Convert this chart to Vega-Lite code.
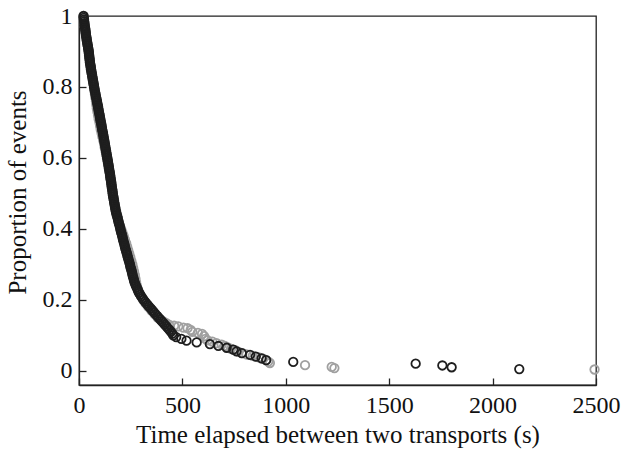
{
  "$schema": "https://vega.github.io/schema/vega-lite/v6.json",
  "autosize": {"type": "none"},
  "width": 517,
  "height": 369,
  "padding": {"left": 79, "top": 16, "right": 28, "bottom": 64},
  "background": "white",
  "config": {
    "view": {"stroke": "#222", "strokeWidth": 1.3},
    "font": "Liberation Serif"
  },
  "data": {"values": [
    {"s":"g","t":22,"p":1},{"s":"g","t":24,"p":0.99},{"s":"g","t":26,"p":0.98},{"s":"g","t":28,"p":0.97},{"s":"g","t":30,"p":0.96},{"s":"g","t":33,"p":0.95},{"s":"g","t":35,"p":0.94},{"s":"g","t":38,"p":0.93},{"s":"g","t":41,"p":0.92},{"s":"g","t":44,"p":0.91},{"s":"g","t":46,"p":0.9},{"s":"g","t":48,"p":0.89},{"s":"g","t":50,"p":0.88},{"s":"g","t":52,"p":0.87},{"s":"g","t":55,"p":0.86},{"s":"g","t":57,"p":0.85},{"s":"g","t":60,"p":0.84},{"s":"g","t":63,"p":0.83},{"s":"g","t":66,"p":0.82},{"s":"g","t":69,"p":0.81},{"s":"g","t":72,"p":0.8},{"s":"g","t":74,"p":0.79},{"s":"g","t":77,"p":0.78},{"s":"g","t":79,"p":0.77},{"s":"g","t":82,"p":0.76},{"s":"g","t":84,"p":0.75},{"s":"g","t":86,"p":0.74},{"s":"g","t":89,"p":0.73},{"s":"g","t":92,"p":0.72},{"s":"g","t":95,"p":0.71},{"s":"g","t":99,"p":0.7},{"s":"g","t":102,"p":0.69},{"s":"g","t":105,"p":0.68},{"s":"g","t":109,"p":0.67},{"s":"g","t":113,"p":0.66},{"s":"g","t":117,"p":0.65},{"s":"g","t":121,"p":0.64},{"s":"g","t":124,"p":0.63},{"s":"g","t":128,"p":0.62},{"s":"g","t":131,"p":0.61},{"s":"g","t":135,"p":0.6},{"s":"g","t":138,"p":0.59},{"s":"g","t":141,"p":0.58},{"s":"g","t":144,"p":0.57},{"s":"g","t":147,"p":0.56},{"s":"g","t":150,"p":0.55},{"s":"g","t":153,"p":0.54},{"s":"g","t":156,"p":0.53},{"s":"g","t":159,"p":0.52},{"s":"g","t":161,"p":0.51},{"s":"g","t":164,"p":0.5},{"s":"g","t":167,"p":0.49},{"s":"g","t":170,"p":0.48},{"s":"g","t":173,"p":0.47},{"s":"g","t":176,"p":0.46},{"s":"g","t":180,"p":0.45},{"s":"g","t":184,"p":0.44},{"s":"g","t":188,"p":0.43},{"s":"g","t":193,"p":0.42},{"s":"g","t":198,"p":0.41},{"s":"g","t":204,"p":0.4},{"s":"g","t":210,"p":0.39},{"s":"g","t":216,"p":0.38},{"s":"g","t":222,"p":0.37},{"s":"g","t":228,"p":0.36},{"s":"g","t":233,"p":0.35},{"s":"g","t":238,"p":0.34},{"s":"g","t":243,"p":0.33},{"s":"g","t":248,"p":0.32},{"s":"g","t":253,"p":0.31},{"s":"g","t":258,"p":0.3},{"s":"g","t":262,"p":0.29},{"s":"g","t":266,"p":0.28},{"s":"g","t":270,"p":0.27},{"s":"g","t":273,"p":0.26},{"s":"g","t":276,"p":0.25},{"s":"g","t":280,"p":0.24},{"s":"g","t":285,"p":0.23},{"s":"g","t":292,"p":0.22},{"s":"g","t":300,"p":0.21},{"s":"g","t":310,"p":0.2},{"s":"g","t":322,"p":0.19},{"s":"g","t":335,"p":0.18},{"s":"g","t":350,"p":0.17},{"s":"g","t":365,"p":0.16},{"s":"g","t":380,"p":0.15},{"s":"g","t":392,"p":0.145},{"s":"g","t":405,"p":0.14},{"s":"g","t":420,"p":0.135},{"s":"g","t":435,"p":0.13},{"s":"g","t":460,"p":0.127},{"s":"g","t":480,"p":0.125},{"s":"g","t":505,"p":0.122},{"s":"g","t":525,"p":0.12},{"s":"g","t":540,"p":0.115},{"s":"g","t":548,"p":0.11},{"s":"g","t":575,"p":0.107},{"s":"g","t":595,"p":0.104},{"s":"g","t":605,"p":0.098},{"s":"g","t":612,"p":0.09},{"s":"g","t":622,"p":0.086},{"s":"g","t":645,"p":0.082},{"s":"g","t":665,"p":0.078},{"s":"g","t":690,"p":0.074},{"s":"g","t":705,"p":0.07},{"s":"g","t":720,"p":0.066},{"s":"g","t":735,"p":0.062},{"s":"g","t":755,"p":0.058},{"s":"g","t":770,"p":0.054},{"s":"g","t":790,"p":0.05},{"s":"g","t":810,"p":0.046},{"s":"g","t":840,"p":0.042},{"s":"g","t":870,"p":0.038},{"s":"g","t":890,"p":0.034},{"s":"g","t":905,"p":0.03},{"s":"g","t":915,"p":0.026},{"s":"g","t":923,"p":0.022},{"s":"g","t":1093,"p":0.016},{"s":"g","t":1222,"p":0.011},{"s":"g","t":1235,"p":0.0076},{"s":"g","t":2493,"p":0.0037},
    {"s":"b","t":22,"p":1},{"s":"b","t":23,"p":0.995},{"s":"b","t":24,"p":0.99},{"s":"b","t":25,"p":0.985},{"s":"b","t":26,"p":0.98},{"s":"b","t":27,"p":0.975},{"s":"b","t":28,"p":0.97},{"s":"b","t":30,"p":0.965},{"s":"b","t":31,"p":0.96},{"s":"b","t":32,"p":0.955},{"s":"b","t":33,"p":0.95},{"s":"b","t":34,"p":0.945},{"s":"b","t":36,"p":0.94},{"s":"b","t":37,"p":0.935},{"s":"b","t":38,"p":0.93},{"s":"b","t":40,"p":0.925},{"s":"b","t":41,"p":0.92},{"s":"b","t":43,"p":0.915},{"s":"b","t":44,"p":0.91},{"s":"b","t":46,"p":0.905},{"s":"b","t":47,"p":0.9},{"s":"b","t":48,"p":0.895},{"s":"b","t":49,"p":0.89},{"s":"b","t":50,"p":0.885},{"s":"b","t":51,"p":0.88},{"s":"b","t":52,"p":0.875},{"s":"b","t":53,"p":0.87},{"s":"b","t":54,"p":0.865},{"s":"b","t":56,"p":0.86},{"s":"b","t":57,"p":0.855},{"s":"b","t":58,"p":0.85},{"s":"b","t":60,"p":0.845},{"s":"b","t":61,"p":0.84},{"s":"b","t":63,"p":0.835},{"s":"b","t":64,"p":0.83},{"s":"b","t":66,"p":0.825},{"s":"b","t":67,"p":0.82},{"s":"b","t":69,"p":0.815},{"s":"b","t":70,"p":0.81},{"s":"b","t":72,"p":0.805},{"s":"b","t":73,"p":0.8},{"s":"b","t":75,"p":0.795},{"s":"b","t":76,"p":0.79},{"s":"b","t":78,"p":0.785},{"s":"b","t":80,"p":0.78},{"s":"b","t":81,"p":0.775},{"s":"b","t":83,"p":0.77},{"s":"b","t":85,"p":0.765},{"s":"b","t":87,"p":0.76},{"s":"b","t":88,"p":0.755},{"s":"b","t":90,"p":0.75},{"s":"b","t":92,"p":0.745},{"s":"b","t":93,"p":0.74},{"s":"b","t":95,"p":0.735},{"s":"b","t":96,"p":0.73},{"s":"b","t":98,"p":0.725},{"s":"b","t":100,"p":0.72},{"s":"b","t":101,"p":0.715},{"s":"b","t":103,"p":0.71},{"s":"b","t":104,"p":0.705},{"s":"b","t":106,"p":0.7},{"s":"b","t":108,"p":0.695},{"s":"b","t":109,"p":0.69},{"s":"b","t":111,"p":0.685},{"s":"b","t":112,"p":0.68},{"s":"b","t":114,"p":0.675},{"s":"b","t":116,"p":0.67},{"s":"b","t":117,"p":0.665},{"s":"b","t":119,"p":0.66},{"s":"b","t":120,"p":0.655},{"s":"b","t":122,"p":0.65},{"s":"b","t":123,"p":0.645},{"s":"b","t":125,"p":0.64},{"s":"b","t":126,"p":0.635},{"s":"b","t":128,"p":0.63},{"s":"b","t":129,"p":0.625},{"s":"b","t":131,"p":0.62},{"s":"b","t":132,"p":0.615},{"s":"b","t":134,"p":0.61},{"s":"b","t":135,"p":0.605},{"s":"b","t":137,"p":0.6},{"s":"b","t":138,"p":0.595},{"s":"b","t":140,"p":0.59},{"s":"b","t":141,"p":0.585},{"s":"b","t":143,"p":0.58},{"s":"b","t":144,"p":0.575},{"s":"b","t":145,"p":0.57},{"s":"b","t":147,"p":0.565},{"s":"b","t":148,"p":0.56},{"s":"b","t":150,"p":0.555},{"s":"b","t":151,"p":0.55},{"s":"b","t":152,"p":0.545},{"s":"b","t":153,"p":0.54},{"s":"b","t":155,"p":0.535},{"s":"b","t":156,"p":0.53},{"s":"b","t":157,"p":0.525},{"s":"b","t":158,"p":0.52},{"s":"b","t":159,"p":0.515},{"s":"b","t":161,"p":0.51},{"s":"b","t":162,"p":0.505},{"s":"b","t":163,"p":0.5},{"s":"b","t":164,"p":0.495},{"s":"b","t":166,"p":0.49},{"s":"b","t":167,"p":0.485},{"s":"b","t":169,"p":0.48},{"s":"b","t":170,"p":0.475},{"s":"b","t":172,"p":0.47},{"s":"b","t":173,"p":0.465},{"s":"b","t":175,"p":0.46},{"s":"b","t":176,"p":0.455},{"s":"b","t":178,"p":0.45},{"s":"b","t":180,"p":0.445},{"s":"b","t":182,"p":0.44},{"s":"b","t":185,"p":0.435},{"s":"b","t":187,"p":0.43},{"s":"b","t":189,"p":0.425},{"s":"b","t":191,"p":0.42},{"s":"b","t":193,"p":0.415},{"s":"b","t":196,"p":0.41},{"s":"b","t":198,"p":0.405},{"s":"b","t":200,"p":0.4},{"s":"b","t":202,"p":0.395},{"s":"b","t":204,"p":0.39},{"s":"b","t":207,"p":0.385},{"s":"b","t":209,"p":0.38},{"s":"b","t":211,"p":0.375},{"s":"b","t":213,"p":0.37},{"s":"b","t":215,"p":0.365},{"s":"b","t":218,"p":0.36},{"s":"b","t":220,"p":0.355},{"s":"b","t":222,"p":0.35},{"s":"b","t":224,"p":0.345},{"s":"b","t":227,"p":0.34},{"s":"b","t":229,"p":0.335},{"s":"b","t":232,"p":0.33},{"s":"b","t":234,"p":0.325},{"s":"b","t":236,"p":0.32},{"s":"b","t":239,"p":0.315},{"s":"b","t":241,"p":0.31},{"s":"b","t":244,"p":0.305},{"s":"b","t":246,"p":0.3},{"s":"b","t":248,"p":0.295},{"s":"b","t":250,"p":0.29},{"s":"b","t":253,"p":0.285},{"s":"b","t":255,"p":0.28},{"s":"b","t":257,"p":0.275},{"s":"b","t":259,"p":0.27},{"s":"b","t":261,"p":0.265},{"s":"b","t":264,"p":0.26},{"s":"b","t":266,"p":0.255},{"s":"b","t":268,"p":0.25},{"s":"b","t":272,"p":0.245},{"s":"b","t":275,"p":0.24},{"s":"b","t":279,"p":0.235},{"s":"b","t":283,"p":0.23},{"s":"b","t":286,"p":0.225},{"s":"b","t":290,"p":0.22},{"s":"b","t":296,"p":0.215},{"s":"b","t":301,"p":0.21},{"s":"b","t":307,"p":0.205},{"s":"b","t":312,"p":0.2},{"s":"b","t":319,"p":0.195},{"s":"b","t":326,"p":0.19},{"s":"b","t":333,"p":0.185},{"s":"b","t":340,"p":0.18},{"s":"b","t":348,"p":0.175},{"s":"b","t":355,"p":0.17},{"s":"b","t":363,"p":0.165},{"s":"b","t":370,"p":0.16},{"s":"b","t":378,"p":0.155},{"s":"b","t":385,"p":0.15},{"s":"b","t":393,"p":0.145},{"s":"b","t":400,"p":0.14},{"s":"b","t":408,"p":0.135},{"s":"b","t":415,"p":0.13},{"s":"b","t":423,"p":0.125},{"s":"b","t":430,"p":0.12},{"s":"b","t":438,"p":0.115},{"s":"b","t":445,"p":0.11},{"s":"b","t":452,"p":0.105},{"s":"b","t":456,"p":0.1},{"s":"b","t":470,"p":0.095},{"s":"b","t":495,"p":0.09},{"s":"b","t":520,"p":0.085},{"s":"b","t":569,"p":0.08},{"s":"b","t":633,"p":0.075},{"s":"b","t":674,"p":0.07},{"s":"b","t":714,"p":0.065},{"s":"b","t":746,"p":0.06},{"s":"b","t":762,"p":0.055},{"s":"b","t":787,"p":0.05},{"s":"b","t":827,"p":0.045},{"s":"b","t":855,"p":0.04},{"s":"b","t":883,"p":0.035},{"s":"b","t":905,"p":0.03},{"s":"b","t":1036,"p":0.025},{"s":"b","t":1628,"p":0.02},{"s":"b","t":1757,"p":0.015},{"s":"b","t":1802,"p":0.01},{"s":"b","t":2129,"p":0.005}
  ]},
  "mark": {"type": "point", "filled": false, "size": 72, "strokeWidth": 1.8, "opacity": 1, "clip": false},
  "encoding": {
    "x": {
      "field": "t", "type": "quantitative",
      "scale": {"domain": [0, 2500], "nice": false, "zero": false},
      "axis": {"values": [0, 500, 1000, 1500, 2000, 2500], "format": "d", "tickSize": -7, "tickWidth": 1.3, "tickColor": "#222", "domainColor": "#222", "domainWidth": 1.3, "grid": false,
        "labelFont": "Liberation Serif", "labelFontSize": 24, "labelColor": "#111", "labelPadding": 15, "labelFlush": false,
        "title": "Time elapsed between two transports (s)", "titleFont": "Liberation Serif", "titleFontSize": 25, "titleFontWeight": "normal", "titleColor": "#111", "titlePadding": 5}
    },
    "y": {
      "field": "p", "type": "quantitative",
      "scale": {"domain": [-0.04, 1], "nice": false, "zero": false},
      "axis": {"values": [0, 0.2, 0.4, 0.6, 0.8, 1], "format": "~g", "tickSize": -7, "tickWidth": 1.3, "tickColor": "#222", "domainColor": "#222", "domainWidth": 1.3, "grid": false,
        "labelFont": "Liberation Serif", "labelFontSize": 24, "labelColor": "#111", "labelPadding": 14, "labelFlush": false,
        "title": "Proportion of events", "titleFont": "Liberation Serif", "titleFontSize": 25, "titleFontWeight": "normal", "titleColor": "#111", "titlePadding": 12, "titleY": 176}
    },
    "stroke": {
      "field": "s", "type": "nominal",
      "scale": {"domain": ["g", "b"], "range": ["#a0a0a0", "#1e1e1e"]},
      "legend": null
    }
  }
}
